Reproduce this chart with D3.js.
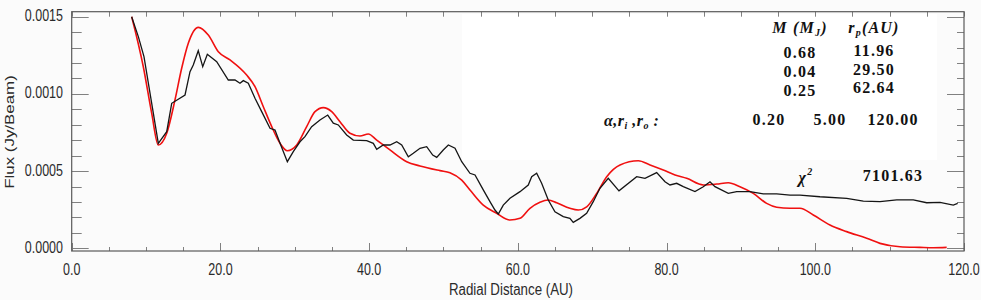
<!DOCTYPE html>
<html>
<head>
<meta charset="utf-8">
<script src="https://cdn.jsdelivr.net/npm/d3@7"></script>
<style>
  html, body { margin: 0; padding: 0; background: #fbfbfb; }
  svg { display: block; }
</style>
</head>
<body>
<svg id="chart" width="981" height="300"></svg>
<script>
const width = 981;
const height = 300;

// --- Data ---
const obsRadius = [8.06, 8.96, 9.72, 11.65, 12.78, 13.45, 15.24, 15.91, 16.35, 17.02, 17.62, 18.24, 19.50,
  21.06, 21.96, 22.63, 23.08, 23.75, 24.65, 25.55, 26.67, 27.34, 28.02, 29.00, 29.80, 30.70, 31.37,
  32.27, 33.39, 34.43, 35.18, 35.85, 36.98, 37.87, 39.67, 40.56, 41.02, 41.90, 42.80, 43.71, 44.38,
  45.27, 45.94, 46.84, 47.74, 48.55, 49.09, 49.97, 50.65, 51.55, 52.45, 53.56, 54.24, 55.35, 56.25,
  56.92, 57.37, 58.04, 58.94, 60.29, 61.40, 61.86, 62.53, 63.20, 64.09, 64.99, 66.11, 67.00, 67.45,
  68.35, 69.25, 70.14, 71.04, 72.16, 73.60, 75.98, 77.10, 78.67, 79.79, 80.46, 81.36, 82.25, 83.82,
  84.94, 85.84, 86.51, 88.30, 89.43, 91.22, 93.01, 94.81, 96.60, 97.94, 100.63, 104.22, 106.46,
  108.70, 110.95, 113.18, 114.98, 116.77, 118.56, 119.15];
const obsFlux = [0.001500, 0.001371, 0.001241, 0.000680, 0.000755, 0.000939, 0.000993, 0.001144,
  0.001187, 0.001280, 0.001176, 0.001257, 0.001209, 0.001090, 0.001090, 0.001069, 0.001086, 0.001069,
  0.000972, 0.000885, 0.000777, 0.000766, 0.000680, 0.000561, 0.000626, 0.000690, 0.000723, 0.000788,
  0.000831, 0.000863, 0.000810, 0.000799, 0.000734, 0.000701, 0.000697, 0.000680, 0.000641, 0.000669,
  0.000669, 0.000690, 0.000669, 0.000593, 0.000615, 0.000648, 0.000658, 0.000604, 0.000589, 0.000637,
  0.000669, 0.000648, 0.000561, 0.000486, 0.000475, 0.000378, 0.000302, 0.000248, 0.000222, 0.000280,
  0.000324, 0.000367, 0.000410, 0.000464, 0.000486, 0.000421, 0.000313, 0.000237, 0.000205, 0.000194,
  0.000168, 0.000194, 0.000227, 0.000302, 0.000389, 0.000453, 0.000372, 0.000464, 0.000453, 0.000490,
  0.000431, 0.000410, 0.000421, 0.000399, 0.000367, 0.000399, 0.000431, 0.000399, 0.000356, 0.000367,
  0.000367, 0.000352, 0.000352, 0.000345, 0.000345, 0.000334, 0.000324, 0.000306, 0.000302, 0.000313,
  0.000313, 0.000295, 0.000298, 0.000280, 0.000291];

const modelRadius = [8.07, 9.63, 10.76, 11.65, 12.78, 13.89, 14.79, 15.68, 17.03, 18.37, 19.72, 21.29,
  23.53, 24.65, 25.77, 26.90, 28.02, 29.00, 30.26, 31.60, 32.72, 33.84, 34.97, 36.08, 37.42, 38.77,
  39.89, 41.02, 42.80, 45.05, 46.84, 49.53, 50.87, 52.45, 53.56, 55.35, 57.15, 58.94, 60.29, 61.63,
  62.97, 64.09, 65.22, 67.00, 68.13, 69.26, 70.60, 71.95, 73.74, 76.20, 77.78, 79.56, 81.14, 82.71,
  84.94, 86.74, 88.30, 89.87, 91.66, 93.46, 94.81, 96.60, 97.94, 99.73, 101.97, 104.22, 106.91,
  108.70, 111.39, 114.08, 115.87, 117.67];
const modelFlux = [0.001500, 0.001176, 0.000874, 0.000669, 0.000745, 0.000961, 0.001166, 0.001328,
  0.001431, 0.001381, 0.001273, 0.001220, 0.001122, 0.001047, 0.000917, 0.000788, 0.000680, 0.000632,
  0.000669, 0.000788, 0.000885, 0.000911, 0.000885, 0.000820, 0.000745, 0.000727, 0.000740, 0.000701,
  0.000637, 0.000561, 0.000533, 0.000503, 0.000490, 0.000442, 0.000378, 0.000280, 0.000227, 0.000183,
  0.000194, 0.000259, 0.000298, 0.000313, 0.000295, 0.000259, 0.000248, 0.000269, 0.000356, 0.000464,
  0.000540, 0.000567, 0.000540, 0.000507, 0.000475, 0.000453, 0.000410, 0.000416, 0.000425, 0.000399,
  0.000356, 0.000291, 0.000266, 0.000259, 0.000259, 0.000216, 0.000151, 0.000108, 0.000065, 0.000032,
  0.000010, 0.000006, 0.000004, 0.000006];

const xTicks = [0, 20, 40, 60, 80, 100, 120];
const yTicks = [0, 0.0005, 0.0010, 0.0015];

const planetMass = ["0.68", "0.04", "0.25"];
const planetRadius = ["11.96", "29.50", "62.64"];
const diskParams = ["0.20", "5.00", "120.00"];
const chiSquare = "7101.63";

// --- Layout ---
const plotLeft = 71.7, plotRight = 964, plotTop = 11.7, plotBottom = 251;
const stretch = 1.3; // the picture is stretched vertically

const svg = d3.select("#chart").attr("viewBox", [0, 0, width, height]);

const x = d3.scaleLinear().domain([0, 120]).range([plotLeft, plotRight]);
const y = d3.scaleLinear().domain([0, 0.0015]).range([248.3, 16.7]);

// white panel behind the annotation block
svg.append("rect")
  .attr("x", 462).attr("y", 14).attr("width", 475).attr("height", 146)
  .attr("fill", "#ffffff");

// --- Ticks ---
const gAxes = svg.append("g").attr("stroke", "#808080").attr("stroke-width", 1);

// y ticks (left and right)
d3.range(0, 16).forEach(i => {
  const v = i * 0.0001;
  const major = i % 5 === 0;
  const yy = Math.round(y(v)) + 0.5;
  gAxes.append("line")
    .attr("x1", plotLeft).attr("x2", plotLeft + (major ? 17 : 10))
    .attr("y1", yy).attr("y2", yy);
  gAxes.append("line")
    .attr("x1", plotRight).attr("x2", plotRight - (major ? 17 : 7))
    .attr("y1", yy).attr("y2", yy);
});

// x ticks (bottom and top)
d3.range(0, 25).forEach(i => {
  const v = i * 5;
  const major = i % 4 === 0;
  const xx = Math.round(x(v)) + 0.5;
  gAxes.append("line")
    .attr("x1", xx).attr("x2", xx)
    .attr("y1", plotBottom).attr("y2", plotBottom - (major ? 8 : 4));
  gAxes.append("line")
    .attr("x1", xx).attr("x2", xx)
    .attr("y1", plotTop).attr("y2", plotTop + 5);
});

// frame
svg.append("rect")
  .attr("x", plotLeft).attr("y", plotTop)
  .attr("width", plotRight - plotLeft).attr("height", plotBottom - plotTop)
  .attr("fill", "none").attr("stroke", "#5a5a5a").attr("stroke-width", 1.2);

// --- Tick labels ---
const stretchedText = (px, py, str, size, anchor, extra = "") =>
  svg.append("text")
    .attr("transform", `translate(${px},${py}) scale(1,${stretch}) ${extra}`)
    .attr("text-anchor", anchor)
    .attr("font-family", "Liberation Sans, Arial, sans-serif")
    .attr("font-size", size)
    .attr("fill", "#2a2a2a")
    .text(str);

yTicks.forEach(v => stretchedText(63, y(v) + 4.5, d3.format(".4f")(v), 12.5, "end"));
xTicks.forEach(v => stretchedText(x(v), 275, d3.format(".1f")(v), 12.5, "middle"));

stretchedText(511, 295, "Radial Distance (AU)", 13.3, "middle");
stretchedText(14, 132, "Flux (Jy/Beam)", 13, "middle", "rotate(-90)");

// --- Curves ---
const obs = obsRadius.map((r, i) => ({r, f: obsFlux[i]}));
const model = modelRadius.map((r, i) => ({r, f: modelFlux[i]}));

svg.append("path")
  .datum(model)
  .attr("fill", "none")
  .attr("stroke", "#f01010")
  .attr("stroke-width", 1.6)
  .attr("d", d3.line().x(d => x(d.r)).y(d => y(d.f)).curve(d3.curveMonotoneX));

svg.append("path")
  .datum(obs)
  .attr("fill", "none")
  .attr("stroke", "#151515")
  .attr("stroke-width", 1.3)
  .attr("d", d3.line().x(d => x(d.r)).y(d => y(d.f)));

// --- Annotation block ---
const serif = "Liberation Serif, Times New Roman, serif";
const note = (px, py, anchor) =>
  svg.append("text")
    .attr("x", px).attr("y", py)
    .attr("text-anchor", anchor)
    .attr("font-family", serif)
    .attr("font-weight", "bold")
    .attr("font-size", 16)
    .attr("letter-spacing", 1.2)
    .attr("fill", "#111");

// header: M (M_J)   r_p(AU)
const h1 = note(800, 33, "middle").attr("font-style", "italic");
h1.append("tspan").text("M (M");
h1.append("tspan").attr("font-size", 10).attr("dy", 3).text("J");
h1.append("tspan").attr("dy", -3).text(")");

const h2 = note(874, 33, "middle").attr("font-style", "italic");
h2.append("tspan").text("r");
h2.append("tspan").attr("font-size", 10).attr("dy", 3).text("p");
h2.append("tspan").attr("dy", -3).text("(AU)");

planetMass.forEach((m, i) => note(800, 58 + i * 19, "middle").text(m));
planetRadius.forEach((r, i) => note(874, 56 + i * 18.7, "middle").text(r));

// alpha, r_i, r_o
const a = note(604, 126, "start").attr("font-style", "italic").attr("letter-spacing", 0.5);
a.append("tspan").text("α,r");
a.append("tspan").attr("font-size", 10).attr("dy", 3).text("i");
a.append("tspan").attr("dy", -3).text(" ,r");
a.append("tspan").attr("font-size", 10).attr("dy", 3).text("o");
a.append("tspan").attr("dy", -3).text(" :");

[769, 830, 893].forEach((px, i) => note(px, 125, "middle").text(diskParams[i]));

// chi square
const c = note(806, 183, "middle").attr("font-style", "italic");
c.append("tspan").text("χ");
c.append("tspan").attr("font-size", 10).attr("dy", -8).text("2");

note(893, 181, "middle").text(chiSquare);
</script>
</body>
</html>
